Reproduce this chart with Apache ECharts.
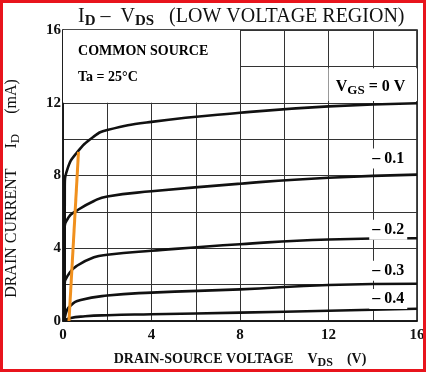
<!DOCTYPE html>
<html><head><meta charset="utf-8">
<script src="https://cdn.jsdelivr.net/npm/echarts@6/dist/echarts.min.js"></script>
<style>html,body{margin:0;padding:0;background:#fff}#c{width:426px;height:372px}</style>
</head><body><div id="c"></div>
<script>
// Data (VDS in V, ID in mA)
var xTicks = [0, 4, 8, 12, 16];
var yTicks = [0, 4, 8, 12, 16];
var vgs0 = [[0.07,0],[0.08,7.4],[0.2,8.35],[0.62,9.25],[1.4,10.15],[2,10.5],[4,10.95],[8,11.45],[12,11.8],[16,11.97]];
var vgs01 = [[0.07,0],[0.07,5.0],[0.25,5.7],[0.62,6.07],[1.4,6.6],[2,6.85],[4,7.13],[8,7.55],[12,7.88],[16,8.05]];
var vgs02 = [[0.07,0],[0.07,2.0],[0.3,2.65],[0.62,3.03],[1.4,3.5],[2,3.64],[4,3.86],[8,4.22],[12,4.48],[16,4.55]];
var vgs03 = [[0.07,0],[0.12,0.4],[0.35,0.85],[0.8,1.15],[2,1.4],[4,1.56],[8,1.74],[12,1.98],[16,2.05]];
var vgs04 = [[0.07,0],[0.3,0.15],[1,0.26],[2,0.32],[4,0.37],[8,0.46],[12,0.56],[16,0.67]];
var orangeLine = [[0.27,0],[0.7,9.3]];
var curveLabels = [
  {name:'– 0.1', value:[14.7, 8.94]},
  {name:'– 0.2', value:[14.7, 5.02]},
  {name:'– 0.3', value:[14.7, 2.76]},
  {name:'– 0.4', value:[14.7, 1.21]}
];
var noteLabels = [
  {name:'COMMON SOURCE', value:[0.68, 14.85]},
  {name:'Ta = 25°C', value:[0.68, 13.4]}
];

var serif = '"Liberation Serif","DejaVu Serif",serif';
function curve(d){
  return {type:'line', data:d, showSymbol:false, smooth:0.5,
    lineStyle:{color:'#111', width:2.6}, z:5, animation:false};
}
var solid = {opacity:1, color:'#fff'};
var chart = echarts.init(document.getElementById('c'));
chart.setOption({
  animation:false,
  title:{
    text:'{m|I}{s|D}{m| –  V}{s|DS}{m|   (LOW VOLTAGE REGION)}',
    left:73, top:0,
    textStyle:{rich:{
      m:{fontFamily:serif, fontSize:20, color:'#111', fontWeight:'normal'},
      s:{fontFamily:serif, fontSize:15, color:'#111', padding:[9,0,0,0]}
    }}
  },
  grid:{left:63, right:9, top:30, bottom:51, show:true, borderColor:'#111', borderWidth:1.5, outerBoundsMode:'none', containLabel:false},
  xAxis:{type:'value', min:0, max:16, interval:2,
    axisLine:{show:true, lineStyle:{color:'#111', width:1.5}},
    axisTick:{show:false},
    splitLine:{show:true, lineStyle:{color:'#333', width:1}},
    axisLabel:{margin:7, fontFamily:serif, fontWeight:'bold', fontSize:15, color:'#111',
      formatter:function(v){return xTicks.indexOf(v)>=0 ? String(v) : '';}},
    name:'{m|DRAIN-SOURCE VOLTAGE    V}{s|DS}{m|    (V)}',
    nameLocation:'middle', nameGap:28,
    nameTextStyle:{rich:{
      m:{fontFamily:serif, fontWeight:'bold', fontSize:14, color:'#111'},
      s:{fontFamily:serif, fontWeight:'bold', fontSize:12, color:'#111', padding:[8,0,0,0]}
    }}
  },
  yAxis:{type:'value', min:0, max:16, interval:2,
    axisLine:{show:true, lineStyle:{color:'#111', width:1.5}},
    axisTick:{show:false},
    splitLine:{show:true, lineStyle:{color:'#333', width:1}},
    axisLabel:{margin:2, fontFamily:serif, fontWeight:'bold', fontSize:15, color:'#111',
      formatter:function(v){return yTicks.indexOf(v)>=0 ? String(v) : '';}},
    name:'{m|DRAIN CURRENT     I}{s|D}{m|     (mA)}',
    nameLocation:'middle', nameGap:41, nameRotate:90,
    nameTextStyle:{padding:[0,26,0,0], rich:{
      m:{fontFamily:serif, fontSize:16, color:'#111'},
      s:{fontFamily:serif, fontSize:13, color:'#111', padding:[8,0,0,0]}
    }}
  },
  graphic:[{type:'rect', shape:{x:0,y:0,width:426,height:372}, style:{fill:'none', stroke:'#e8141c', lineWidth:6}, z:100}],
  series:[
    {type:'line', data:[], z:1, markArea:{silent:true, itemStyle:{color:'#fff', opacity:1},
      data:[[{coord:[0,12]},{coord:[8,16]}],[{coord:[12,12.1]},{coord:[16,13.9]}]]}},
    curve(vgs0), curve(vgs01), curve(vgs02), curve(vgs03), curve(vgs04),
    {type:'line', data:orangeLine, showSymbol:false, lineStyle:{color:'#f0901e', width:3}, z:6},
    {type:'scatter', data:curveLabels, symbolSize:0, z:20, itemStyle:solid,
      label:{show:true, opacity:1, position:'inside', formatter:'{b}', fontFamily:serif, fontWeight:'bold', fontSize:16, color:'#000', backgroundColor:'#fff', padding:[2,3]}},
    {type:'scatter', data:[{name:'VGS', value:[13.9,12.85]}], symbolSize:0, z:20, itemStyle:solid,
      label:{show:true, opacity:1, position:'inside', formatter:'{m|V}{s|GS}{m| = 0 V}',
        rich:{m:{fontFamily:serif, fontWeight:'bold', fontSize:16, color:'#000'}, s:{fontFamily:serif, fontWeight:'bold', fontSize:13, color:'#000', padding:[7,0,0,0]}}}},
    {type:'scatter', data:noteLabels, symbolSize:0, z:20, itemStyle:solid,
      label:{show:true, opacity:1, position:'inside', align:'left', formatter:'{t|{b}}',
        rich:{t:{fontFamily:serif, fontWeight:'bold', fontSize:14, color:'#000'}}}}
  ]
});
</script></body></html>
